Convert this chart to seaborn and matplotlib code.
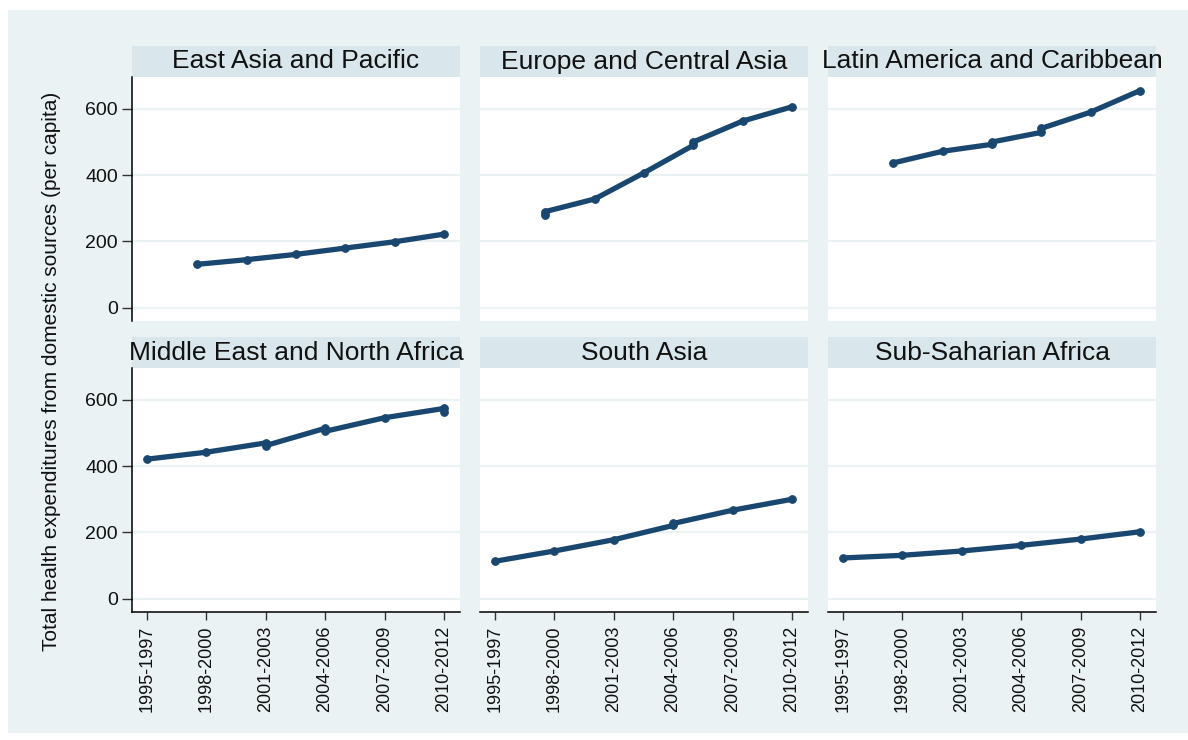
import numpy as np
import pandas as pd
import seaborn as sns
import matplotlib.pyplot as plt
from matplotlib.patches import Rectangle

# 数据
periods = ["1995-1997", "1998-2000", "2001-2003", "2004-2006", "2007-2009", "2010-2012"]
regions = ["East Asia and Pacific", "Europe and Central Asia", "Latin America and Caribbean",
           "Middle East and North Africa", "South Asia", "Sub-Saharian Africa"]

eap_x = [0.85, 1.68, 2.51, 3.34, 4.17, 5.0]
eap_y = [131, 145, 161, 180, 199, 222]

eca_x = [0.85, 0.85, 1.68, 2.51, 3.34, 3.34, 4.17, 5.0]
eca_y = [281, 290, 328, 407, 490, 500, 563, 606]

lac_x = [0.85, 1.68, 2.51, 2.51, 3.34, 3.34, 4.17, 5.0]
lac_y = [437, 472, 493, 500, 529, 541, 590, 655]

mena_x = [0, 1, 2, 2, 3, 3, 4, 5, 5]
mena_y = [421, 442, 470, 462, 514, 505, 546, 574, 564]

sa_x = [0, 1, 2, 3, 3, 4, 5]
sa_y = [113, 144, 178, 221, 227, 267, 300]

ssa_x = [0, 1, 2, 3, 4, 5]
ssa_y = [123, 131, 144, 161, 180, 202]

xs = [eap_x, eca_x, lac_x, mena_x, sa_x, ssa_x]
ys = [eap_y, eca_y, lac_y, mena_y, sa_y, ssa_y]

# 样式
sns.set_theme(style="white")
plt.rcParams['font.family'] = ['Liberation Sans', 'DejaVu Sans']

line_col = '#1a476f'
bg_col = '#eaf2f3'
strip_col = '#d9e6eb'

W, H = 1188, 740
fig = plt.figure(figsize=(W / 100, H / 100), dpi=100)
fig.patch.set_facecolor('white')
fig.patches.append(Rectangle((8 / W, 1 - 733 / H), 1 - 8 / W, (733 - 10) / H,
                             transform=fig.transFigure, facecolor=bg_col,
                             edgecolor='none', zorder=-10))

lefts = [132, 480, 828]
tops = [77, 368]
aw, ah = 328, 244

for k in range(6):
    r, c = divmod(k, 3)
    ax = fig.add_axes([lefts[c] / W, 1 - (tops[r] + ah) / H, aw / W, ah / H])
    ax.set_facecolor('white')
    df = pd.DataFrame({'x': xs[k], 'y': ys[k]})
    sns.lineplot(data=df, x='x', y='y', ax=ax, estimator=None, sort=False,
                 color=line_col, lw=3.8, marker='o', markersize=5.5,
                 markeredgecolor=line_col, zorder=3)
    ax.set_xlim(-0.25, 5.27)
    ax.set_ylim(-40, 696)
    ax.set_yticks([0, 200, 400, 600])
    ax.set_xticks(range(6))
    ax.grid(axis='y', color=bg_col, lw=1.6)
    ax.grid(axis='x', visible=False)
    ax.set_xlabel('')
    ax.set_ylabel('')
    for s in ax.spines.values():
        s.set_visible(False)
    if c == 0:
        ax.spines['left'].set_visible(True)
        ax.spines['left'].set_color('black')
        ax.spines['left'].set_linewidth(1.1)
        ax.tick_params(axis='y', left=True, length=7, width=1, color='#333333',
                       labelsize=14, labelcolor='#111111', pad=3)
    else:
        ax.tick_params(axis='y', left=False, labelleft=False)
    if r == 1:
        ax.spines['bottom'].set_visible(True)
        ax.spines['bottom'].set_color('black')
        ax.spines['bottom'].set_linewidth(1.1)
        ax.set_xticklabels(periods, rotation=90)
        ax.tick_params(axis='x', bottom=True, length=6, width=1, color='#333333',
                       labelsize=13, labelcolor='#111111', pad=4)
    else:
        ax.tick_params(axis='x', bottom=False, labelbottom=False)
    # 标题条
    ax.add_patch(Rectangle((0, 1), 1, 31 / ah, transform=ax.transAxes,
                           facecolor=strip_col, edgecolor='none', clip_on=False))
    ax.text(0.5, 1 + 15.5 / ah, regions[k], transform=ax.transAxes,
            ha='center', va='center', fontsize=19, color='#111111')

fig.text(52 / W, 1 - 371 / H, 'Total health expenditures from domestic sources (per capita)',
         rotation=90, ha='center', va='center', fontsize=15, color='#111111')

fig.savefig('out.png', dpi=100, facecolor=fig.get_facecolor())
